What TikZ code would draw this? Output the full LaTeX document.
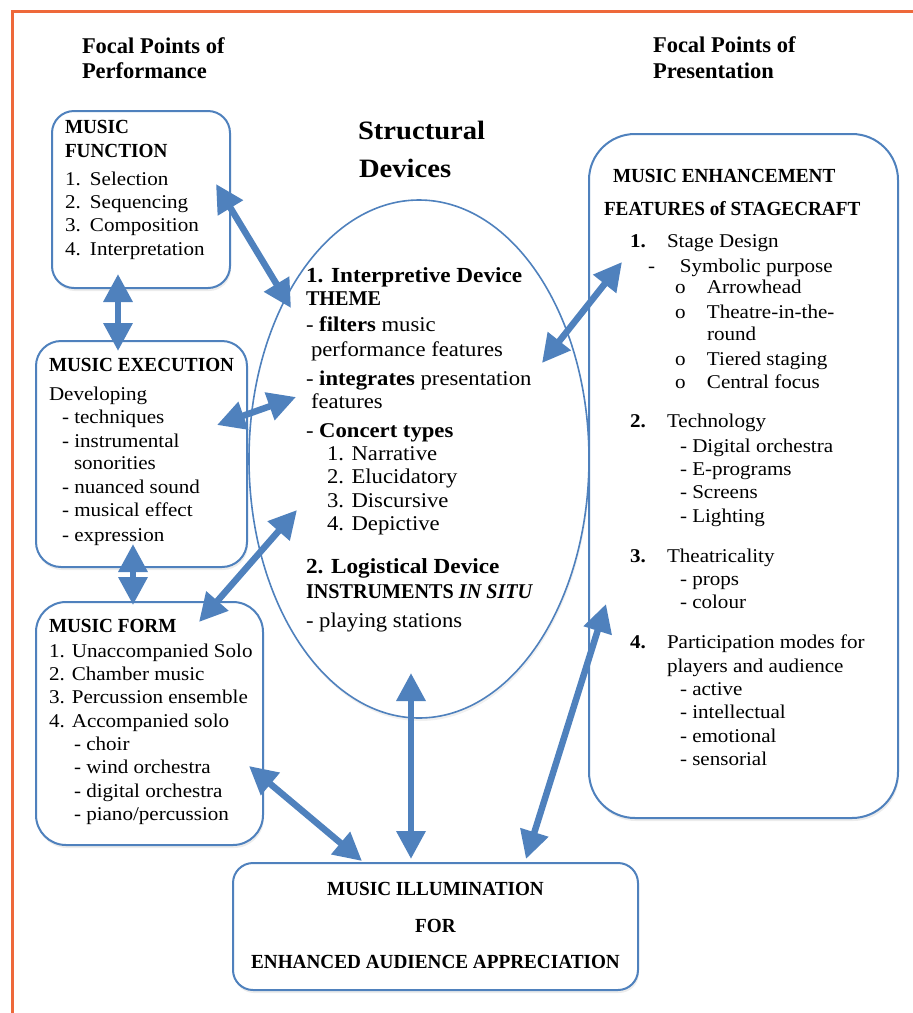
\documentclass[tikz,border=0pt]{standalone}
\usepackage{fontspec}
\setmainfont[FakeStretch=1.08]{Liberation Serif}
\newfontfamily\capsfont[FakeStretch=0.96]{Liberation Serif}
\newfontfamily\plainfont{Liberation Serif}
\usetikzlibrary{arrows.meta,shapes.geometric,shadows,calc}
\definecolor{lineblue}{RGB}{79,129,189}
\definecolor{framered}{RGB}{238,104,58}
\newcommand\fTop{\plainfont\fontsize{22.5}{25}\selectfont\bfseries}
\newcommand\fStruct{\fontsize{26.5}{30}\selectfont\bfseries}
\newcommand\fHead{\capsfont\fontsize{20}{22}\selectfont\bfseries}
\newcommand\fBody{\fontsize{19.5}{22}\selectfont}
\newcommand\fEll{\fontsize{21}{23}\selectfont}
\newcommand\fEllH{\fontsize{21.5}{23}\selectfont\bfseries}
\newcommand\fEllC{\capsfont\fontsize{21}{23}\selectfont\bfseries}
\newcommand\Tx[4]{\node[txt] (#1) at (#2,#3) {#4};}
\tikzset{
  box/.style={draw=lineblue, line width=2pt, fill=white, rounded corners=#1, inner sep=0pt,
    drop shadow={shadow xshift=1pt, shadow yshift=-3pt, opacity=0.15}},
  box/.default=22pt,
  ellbox/.style={ellipse, draw=lineblue, line width=1.6pt, fill=white, inner sep=0pt,
    drop shadow={shadow xshift=1pt, shadow yshift=-3pt, opacity=0.12}},
  txt/.style={anchor=base west, inner sep=0pt, outer sep=0pt},
  ctxt/.style={anchor=base, inner sep=0pt, outer sep=0pt},
  biarrow/.style={draw=lineblue, line width=6.5pt,
    {Triangle[length=28pt,width=28pt]}-{Triangle[length=28pt,width=28pt]}},
}
\begin{document}
\begin{tikzpicture}[x=1pt,y=-1pt]
\useasboundingbox (0,0) rectangle (913,1013);
% frame
\draw[framered, line width=3pt] (12,1013) -- (12,11) -- (913,11);

% titles
\Tx{tp1}{82}{53}{\fTop Focal Points of}
\Tx{tp2}{82}{78}{\fTop Performance}
\Tx{tr1}{653}{52}{\fTop Focal Points of}
\Tx{tr2}{653}{78}{\fTop Presentation}
\Tx{ts1}{358}{139}{\fStruct Structural}
\Tx{ts2}{359}{177}{\fStruct Devices}

% shapes
\node[ellbox, minimum width=340pt, minimum height=518pt] (ell) at (419,459) {};
\node[box=22pt, minimum width=178pt, minimum height=177pt] (func) at (141,199.5) {};
\node[box=25pt, minimum width=211pt, minimum height=226pt] (exec) at (141.5,454) {};
\node[box=30pt, minimum width=227pt, minimum height=243pt] (form) at (149.5,723.5) {};
\node[box=20pt, minimum width=405pt, minimum height=127pt] (illum) at (435.5,926.5) {};
\node[box=46pt, minimum width=309pt, minimum height=684pt] (stage) at (743.5,476) {};

% music function
\Tx{fh1}{65}{133}{\fHead MUSIC}
\Tx{fh2}{65}{157}{\fHead FUNCTION}
\Tx{f1}{65}{185}{\fBody\makebox[25pt][l]{1.}Selection}
\Tx{f2}{65}{208}{\fBody\makebox[25pt][l]{2.}Sequencing}
\Tx{f3}{65}{231.5}{\fBody\makebox[25pt][l]{3.}Composition}
\Tx{f4}{65}{255}{\fBody\makebox[25pt][l]{4.}Interpretation}

% music execution
\Tx{eh}{49}{371}{\fHead MUSIC EXECUTION}
\Tx{e0}{49}{400}{\fBody Developing}
\Tx{e1}{62}{423}{\fBody - techniques}
\Tx{e2}{62}{447}{\fBody - instrumental}
\Tx{e3}{74}{469}{\fBody sonorities}
\Tx{e4}{62}{493}{\fBody - nuanced sound}
\Tx{e5}{62}{516}{\fBody - musical effect}
\Tx{e6}{62}{541}{\fBody - expression}

% music form
\Tx{mh}{49}{632}{\fHead MUSIC FORM}
\Tx{m1}{49}{657}{\fBody 1. Unaccompanied Solo}
\Tx{m2}{49}{680}{\fBody 2. Chamber music}
\Tx{m3}{49}{703}{\fBody 3. Percussion ensemble}
\Tx{m4}{49}{727}{\fBody 4. Accompanied solo}
\Tx{m5}{74}{750}{\fBody - choir}
\Tx{m6}{74}{773}{\fBody - wind orchestra}
\Tx{m7}{74}{797}{\fBody - digital orchestra}
\Tx{m8}{74}{820}{\fBody - piano/percussion}

% ellipse
\Tx{d1}{306}{282}{\fEllH 1. Interpretive Device}
\Tx{d2}{306}{305}{\fEllC THEME}
\Tx{d3}{306}{331}{\fEll - \textbf{filters} music}
\Tx{d4}{311}{356}{\fEll performance features}
\Tx{d5}{306}{385}{\fEll - \textbf{integrates} presentation}
\Tx{d6}{311}{408}{\fEll features}
\Tx{d7}{306}{437}{\fEll - \textbf{Concert types}}
\Tx{d8}{327}{460}{\fEll 1. Narrative}
\Tx{d9}{327}{483}{\fEll 2. Elucidatory}
\Tx{d10}{327}{507}{\fEll 3. Discursive}
\Tx{d11}{327}{530}{\fEll 4. Depictive}
\Tx{d12}{306}{573}{\fEllH 2. Logistical Device}
\Tx{d13}{306}{598}{\fEllC INSTRUMENTS \textit{IN SITU}}
\Tx{d14}{306}{627}{\fEll - playing stations}

% stagecraft
\Tx{sh1}{613}{182}{\fHead MUSIC ENHANCEMENT}
\Tx{sh2}{604}{215}{\fHead FEATURES of STAGECRAFT}
\Tx{s1}{630}{247}{\fBody\makebox[37pt][l]{\bfseries 1.}Stage Design}
\Tx{s2}{648}{272}{\fBody\makebox[32pt][l]{-}Symbolic purpose}
\Tx{s3}{675}{293}{\fBody\makebox[32pt][l]{o}Arrowhead}
\Tx{s4}{675}{318}{\fBody\makebox[32pt][l]{o}Theatre-in-the-}
\Tx{s5}{707}{340}{\fBody round}
\Tx{s6}{675}{365}{\fBody\makebox[32pt][l]{o}Tiered staging}
\Tx{s7}{675}{388}{\fBody\makebox[32pt][l]{o}Central focus}
\Tx{s8}{630}{427}{\fBody\makebox[37pt][l]{\bfseries 2.}Technology}
\Tx{s9}{680}{452}{\fBody - Digital orchestra}
\Tx{s10}{680}{475}{\fBody - E-programs}
\Tx{s11}{680}{498}{\fBody - Screens}
\Tx{s12}{680}{522}{\fBody - Lighting}
\Tx{s13}{630}{562}{\fBody\makebox[37pt][l]{\bfseries 3.}Theatricality}
\Tx{s14}{680}{585}{\fBody - props}
\Tx{s15}{680}{608}{\fBody - colour}
\Tx{s16}{630}{648}{\fBody\makebox[37pt][l]{\bfseries 4.}Participation modes for}
\Tx{s17}{667}{672}{\fBody players and audience}
\Tx{s18}{680}{695}{\fBody - active}
\Tx{s19}{680}{718}{\fBody - intellectual}
\Tx{s20}{680}{742}{\fBody - emotional}
\Tx{s21}{680}{765}{\fBody - sensorial}

% illumination
\node[ctxt] (i1) at (435.5,895) {\fHead MUSIC ILLUMINATION};
\node[ctxt] (i2) at (435.5,932) {\fHead FOR};
\node[ctxt] (i3) at (435.5,968) {\fHead ENHANCED AUDIENCE APPRECIATION};

% connectors
\draw[biarrow] ([shift={(-15,-15.5)}]func.east) -- ([shift={(-128,-151)}]ell.center);
\draw[biarrow] ([shift={(-23,-15)}]func.south) -- ([shift={(-23.5,11)}]exec.north);
\draw[biarrow] ([shift={(-31,-29)}]exec.east) -- ([shift={(-123,-62)}]ell.center);
\draw[biarrow] ([shift={(-8.5,-24)}]exec.south) -- ([shift={(-16.5,4)}]form.north);
\draw[biarrow] ([shift={(49.5,21)}]form.north) -- ([shift={(-122,51)}]ell.center);
\draw[biarrow] ([shift={(-15,42.5)}]form.east) -- ([shift={(-73.5,-1)}]illum.north);
\draw[biarrow] ([shift={(-8,214)}]ell.center) -- ([shift={(-24.5,-3)}]illum.north);
\draw[biarrow] ([shift={(90.5,-3)}]illum.north) -- ([shift={(18,128)}]stage.west);
\draw[biarrow] ([shift={(123,-96)}]ell.center) -- ([shift={(34,-214)}]stage.west);
\end{tikzpicture}
\end{document}
